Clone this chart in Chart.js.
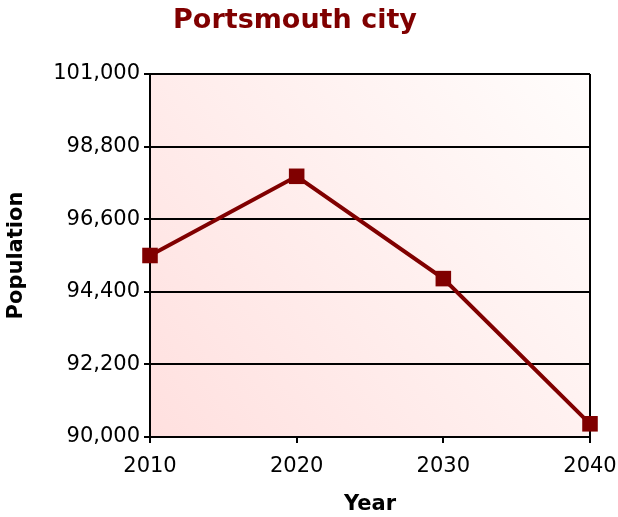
<!DOCTYPE html>
<html>
<head>
<meta charset="utf-8">
<script src="https://cdn.jsdelivr.net/npm/chart.js@4"></script>
<style>
  html, body { margin: 0; padding: 0; background: #fff; }
  #wrap { width: 618px; height: 517px; }
</style>
</head>
<body>
<div id="wrap"><canvas id="myChart" width="618" height="517"></canvas></div>
<script>
// population chart for Portsmouth

let years = ['2010', '2020', '2030', '2040'];
let population = [95500, 97900, 94800, 90400];
let yTicks = [90000, 92200, 94400, 96600, 98800, 101000];

let darkRed = '#800000';
let font = "'DejaVu Sans', Verdana, sans-serif";

// pink to white fill behind the plot
let plotBg = {
  id: 'plotBg',
  beforeDraw: (chart) => {
    let a = chart.chartArea;
    let c = chart.ctx;
    let g = c.createLinearGradient(a.left, a.bottom, a.right, a.top);
    g.addColorStop(0, '#ffe0df');
    g.addColorStop(1, '#fffdfc');
    c.save();
    c.fillStyle = g;
    c.fillRect(a.left, a.top, a.right - a.left, a.bottom - a.top);
    c.restore();
  }
};

let ctx = document.getElementById('myChart').getContext('2d');

let myChart = new Chart(ctx, {
  type: 'line',
  data: {
    labels: years,
    datasets: [{
      data: population,
      borderColor: darkRed,
      backgroundColor: darkRed,
      borderWidth: 4,
      pointStyle: 'rect',
      pointRadius: 11,
      pointBorderWidth: 0,
      tension: 0
    }]
  },
  plugins: [plotBg],
  options: {
    responsive: false,
    animation: false,
    layout: {
      padding: { left: 0, right: 28, top: 0, bottom: 0 }
    },
    plugins: {
      legend: { display: false },
      tooltip: { enabled: false },
      title: {
        display: true,
        text: 'Portsmouth city',
        color: darkRed,
        font: { family: font, size: 27, weight: 'bold' },
        padding: { top: 5, bottom: 36.6 }
      }
    },
    scales: {
      x: {
        offset: false,
        afterFit: (scale) => {
          scale.height = 80;
          // let the last label hang into the right margin
          scale.paddingRight = 0;
          scale.paddingLeft = 0;
        },
        grid: {
          color: (c) => (c.index === 0 || c.index === years.length - 1) ? '#000' : 'rgba(0,0,0,0)',
          tickColor: '#000',
          lineWidth: 2,
          tickLength: 6
        },
        border: { display: true, color: '#000', width: 2 },
        ticks: {
          color: '#000',
          padding: 11,
          font: { family: font, size: 21 }
        },
        title: {
          display: true,
          text: 'Year',
          color: '#000',
          font: { family: font, size: 21, weight: 'bold' },
          padding: { top: 0, bottom: 0 }
        }
      },
      y: {
        min: 90000,
        max: 101000,
        afterFit: (scale) => { scale.width = 150; },
        afterBuildTicks: (scale) => {
          scale.ticks = yTicks.map((v) => ({ value: v }));
        },
        grid: {
          color: '#000',
          tickColor: '#000',
          lineWidth: 2,
          tickLength: 6
        },
        border: { display: true, color: '#000', width: 2 },
        ticks: {
          color: '#000',
          padding: 4,
          font: { family: font, size: 21 },
          callback: (v) => v.toLocaleString('en-US')
        },
        title: {
          display: true,
          text: 'Population',
          color: '#000',
          font: { family: font, size: 21, weight: 'bold' },
          padding: { top: 4, bottom: 0 }
        }
      }
    }
  }
});
</script>
</body>
</html>
